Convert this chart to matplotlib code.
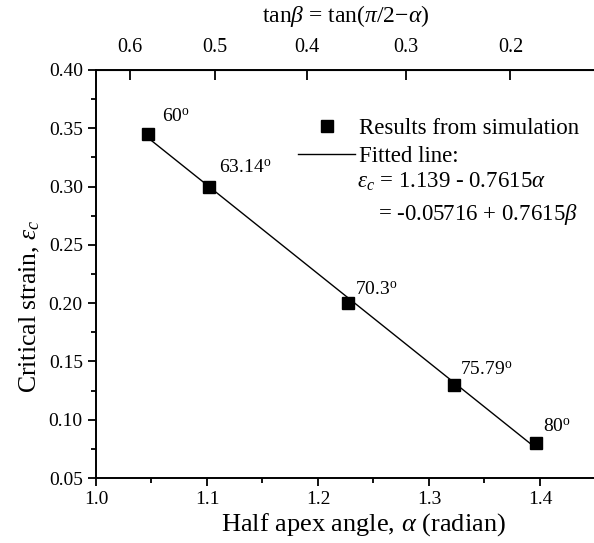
import numpy as np
import matplotlib
matplotlib.use("Agg")
import matplotlib.pyplot as plt
from matplotlib.ticker import MultipleLocator, FixedLocator

plt.rcParams["font.family"] = ["Liberation Serif", "DejaVu Serif"]
plt.rcParams["mathtext.fontset"] = "custom"
plt.rcParams["mathtext.rm"] = "Liberation Serif"
plt.rcParams["mathtext.it"] = "Liberation Serif:italic"

# simulation results: half apex angle (deg) and critical strain
angle_deg = [60, 63.14, 70.3, 75.79, 80]
angle_labels = ["60", "63.14", "70.3", "75.79", "80"]
strain = [0.345, 0.30, 0.20, 0.13, 0.08]

# fitted line eps_c = a + b*alpha
fit_a = 1.139
fit_b = -0.7615

top_ticks = [0.6, 0.5, 0.4, 0.3, 0.2]

alpha = np.radians(angle_deg)
alpha_fit = np.array([alpha.min(), alpha.max()])

fig = plt.figure(figsize=(5.94, 5.43), dpi=100)
ax = fig.add_axes([0.1616, 0.1197, 0.8409, 0.7514])

line, = ax.plot(alpha_fit, fit_a + fit_b * alpha_fit, color="black", lw=1.0)
pts, = ax.plot(alpha, strain, "s", color="black", ms=8.5, zorder=3)

# angle labels next to each point (offsets in points)
offsets = [(10, 6), (7, 7), (5, 3), (4, 4), (5, 5)]
for x, y, lab, off in zip(alpha, strain, angle_labels, offsets):
    ax.annotate(lab + r"$^{\mathrm{o}}$", (x, y), xytext=off, textcoords="offset points",
                fontsize=14, ha="left", va="bottom")

ax.set_xlim(1.0, 1.45)
ax.set_ylim(0.05, 0.40)
ax.xaxis.set_major_locator(FixedLocator([1.0, 1.1, 1.2, 1.3, 1.4]))
ax.xaxis.set_minor_locator(MultipleLocator(0.05))
ax.yaxis.set_major_locator(MultipleLocator(0.05))
ax.yaxis.set_minor_locator(MultipleLocator(0.025))
ax.xaxis.set_major_formatter(plt.FuncFormatter(lambda v, p: f"{v:.1f}"))
ax.yaxis.set_major_formatter(plt.FuncFormatter(lambda v, p: f"{v:.2f}"))
ax.tick_params(which="both", direction="out", width=1.3, labelsize=14, top=False, right=False)
ax.tick_params(which="major", length=6)
ax.tick_params(which="minor", length=3.5)
for s in ax.spines.values():
    s.set_linewidth(1.4)
ax.spines["right"].set_visible(False)

ax.set_xlabel(r"Half apex angle, $\alpha$ (radian)", fontsize=19, labelpad=2, x=0.535)
ax.set_ylabel(r"Critical strain, $\varepsilon_c$", fontsize=18.5, labelpad=5, y=0.42)

# top axis: tan(beta) = tan(pi/2 - alpha) = 1/tan(alpha)
sec = ax.secondary_xaxis("top", functions=(lambda a: 1.0 / np.tan(a),
                                           lambda t: np.arctan(1.0 / t)))
sec.set_xticks(top_ticks)
sec.xaxis.set_major_formatter(plt.FuncFormatter(lambda v, p: f"{v:.1f}"))
sec.tick_params(direction="in", length=7, width=1.3, labelsize=14.5, pad=9)
sec.set_xlabel(r"tan$\beta$ = tan($\pi$/2$-\alpha$)", fontsize=17, labelpad=12)

leg = ax.legend([pts, line], ["Results from simulation", "Fitted line:"],
                loc="upper left", bbox_to_anchor=(0.386, 0.905), frameon=False,
                fontsize=16.5, handlelength=2.5, handletextpad=0.15, borderaxespad=0,
                labelspacing=0.3, numpoints=1)
ax.text(0.5225, 0.725, r"$\varepsilon_c$ = 1.139 - 0.7615$\alpha$",
        transform=ax.transAxes, fontsize=16.5, va="center")
ax.text(0.5646, 0.647, r"= -0.05716 + 0.7615$\beta$",
        transform=ax.transAxes, fontsize=16.5, va="center")

fig.savefig("out.png", dpi=100)
